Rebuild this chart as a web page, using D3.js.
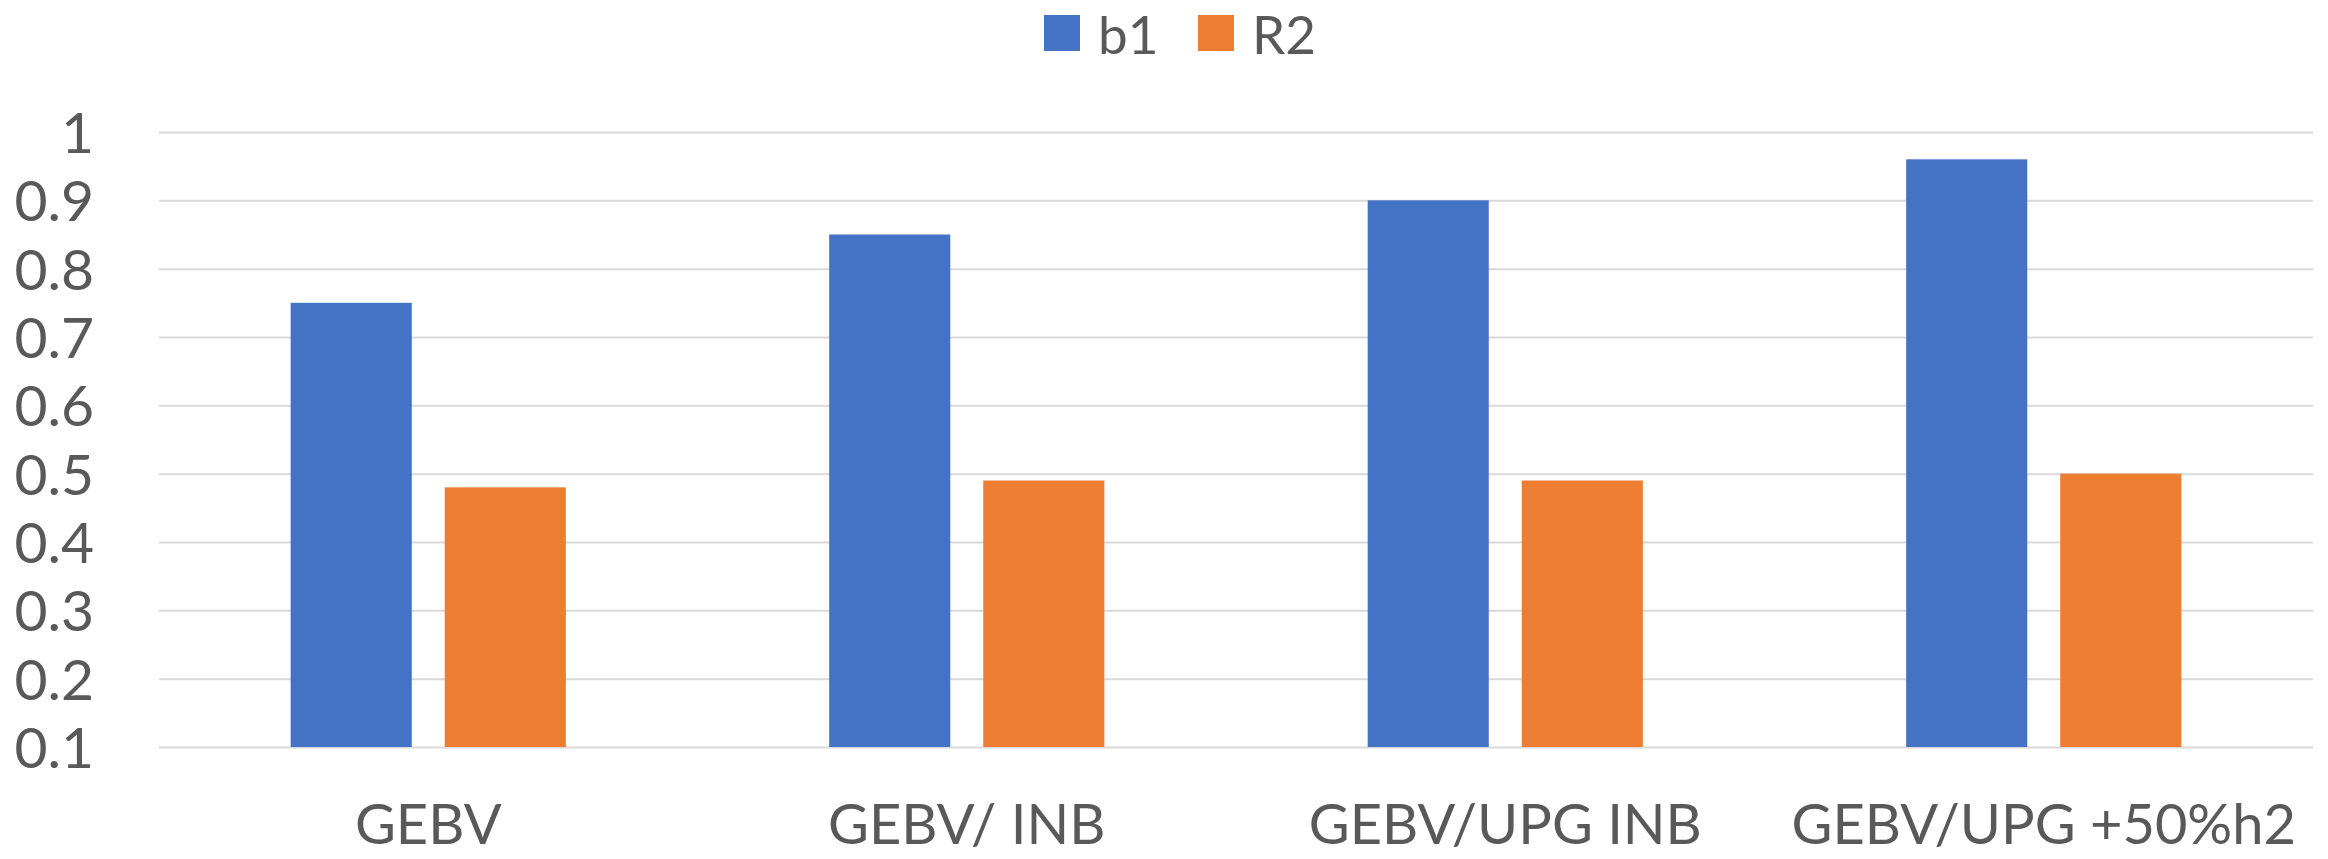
<!DOCTYPE html>
<html><head><meta charset="utf-8">
<script src="https://cdn.jsdelivr.net/npm/d3@7"></script>
<style>html,body{margin:0;padding:0;background:#fff;}svg{display:block;}</style>
</head><body>
<script>
const categories = ["GEBV", "GEBV/ INB", "GEBV/UPG INB", "GEBV/UPG +50%h2"];
const seriesNames = ["b1", "R2"];
const b1 = [0.75, 0.85, 0.90, 0.96];
const R2 = [0.48, 0.49, 0.49, 0.50];
const yTicks = [0.1, 0.2, 0.3, 0.4, 0.5, 0.6, 0.7, 0.8, 0.9, 1];
const colors = ["#4472C4", "#ED7D31"];

const W = 2328, H = 859;
const mLeft = 159, mRight = 2313, mTop = 132, mBottom = 747;
const font = "Lato, 'Open Sans', sans-serif";
const textColor = "#595959";

const svg = d3.select("body").append("svg").attr("width", W).attr("height", H);

const y = d3.scaleLinear().domain([0.1, 1]).range([mBottom, mTop]);
const x0 = d3.scaleBand().domain(categories).range([mLeft, mRight]).paddingInner(0.489).paddingOuter(0.2445);
const x1 = d3.scaleBand().domain(seriesNames).range([0, x0.bandwidth()]).paddingInner(0.214);

// gridlines
const yAxis = d3.axisLeft(y).tickValues(yTicks).tickSize(-(mRight - mLeft)).tickFormat(d => d3.format("")(d));
const gy = svg.append("g").attr("transform", `translate(${mLeft},0)`).call(yAxis);
gy.select(".domain").remove();
gy.selectAll(".tick line").attr("stroke", "#d9d9d9").attr("stroke-width", 2);
gy.selectAll(".tick text").attr("x", -65).attr("fill", textColor)
  .style("font-family", font).style("font-size", "57px").attr("dy", "0.36em");

// bars
const data = categories.map((c, i) => ({cat: c, vals: [{s: "b1", v: b1[i]}, {s: "R2", v: R2[i]}]}));
const groups = svg.append("g").selectAll("g").data(data).join("g")
  .attr("transform", d => `translate(${x0(d.cat)},0)`);
groups.selectAll("rect").data(d => d.vals).join("rect")
  .attr("x", d => x1(d.s)).attr("width", x1.bandwidth())
  .attr("y", d => y(d.v)).attr("height", d => y(0.1) - y(d.v))
  .attr("fill", (d, i) => colors[i]);

// x axis labels
const xAxis = d3.axisBottom(x0).tickSize(0).tickPadding(0);
const gx = svg.append("g").attr("transform", `translate(0,${mBottom})`).call(xAxis);
gx.select(".domain").remove();
gx.selectAll(".tick text").attr("y", 97).attr("dy", 0).attr("fill", textColor)
  .style("font-family", font).style("font-size", "56px");

// legend
const legend = svg.append("g");
const legX = [1044, 1198];
seriesNames.forEach((s, i) => {
  legend.append("rect").attr("x", legX[i]).attr("y", 15).attr("width", 36).attr("height", 36).attr("fill", colors[i]);
  legend.append("text").attr("x", legX[i] + 54).attr("y", 54).text(s)
    .attr("fill", textColor).style("font-family", font).style("font-size", "53px");
});
</script>
</body></html>
